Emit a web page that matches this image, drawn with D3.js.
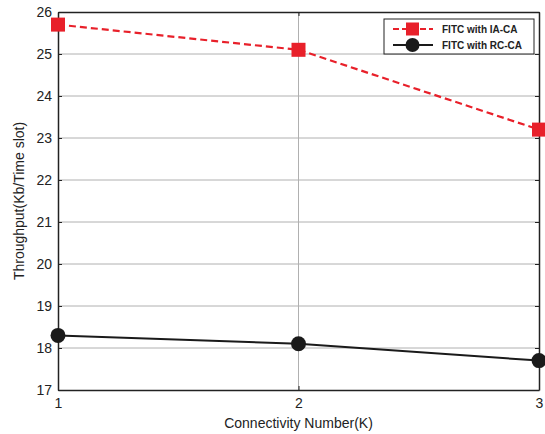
<!DOCTYPE html>
<html><head><meta charset="utf-8">
<script src="https://cdn.jsdelivr.net/npm/d3@7"></script>
<style>body{margin:0;background:#fff}svg{display:block}text{font-family:"Liberation Sans",Arial,sans-serif}</style>
</head><body>
<script>
const categories = [1, 2, 3];
const iaca = [25.7, 25.1, 23.2];
const rcca = [18.3, 18.1, 17.7];
const yTicks = [17, 18, 19, 20, 21, 22, 23, 24, 25, 26];
const seriesNames = ["FITC with IA-CA", "FITC with RC-CA"];

const W = 545, H = 434;
const m = {l: 58, r: 545 - 539, t: 12, b: 434 - 390};
const svg = d3.select("body").append("svg").attr("width", W).attr("height", H);
const x = d3.scaleLinear().domain([1, 3]).range([m.l, W - m.r]);
const y = d3.scaleLinear().domain([17, 26]).range([H - m.b, m.t]);

// grid
svg.append("g").selectAll("line").data(yTicks.slice(1, -1)).join("line")
  .attr("x1", m.l).attr("x2", W - m.r).attr("y1", d => y(d)).attr("y2", d => y(d))
  .attr("stroke", "#b0b0b0").attr("stroke-width", 1);
svg.append("g").selectAll("line").data([2]).join("line")
  .attr("x1", d => x(d)).attr("x2", d => x(d)).attr("y1", m.t).attr("y2", H - m.b)
  .attr("stroke", "#b0b0b0").attr("stroke-width", 1);

// axes
const ax = svg.append("g").attr("transform", `translate(0,${H - m.b})`)
  .call(d3.axisBottom(x).tickValues(categories).tickFormat(d3.format("d")).tickSizeInner(-4).tickSizeOuter(0).tickPadding(8));
const ay = svg.append("g").attr("transform", `translate(${m.l},0)`)
  .call(d3.axisLeft(y).tickValues(yTicks).tickSizeInner(-4).tickSizeOuter(0).tickPadding(6));
const axT = svg.append("g").attr("transform", `translate(0,${m.t})`)
  .call(d3.axisTop(x).tickValues(categories).tickFormat("").tickSizeInner(-4).tickSizeOuter(0));
const ayR = svg.append("g").attr("transform", `translate(${W - m.r},0)`)
  .call(d3.axisRight(y).tickValues(yTicks).tickFormat("").tickSizeInner(-4).tickSizeOuter(0));
[ax, ay, axT, ayR].forEach(g => {
  g.selectAll(".domain").attr("stroke", "#222").attr("stroke-width", 1.5);
  g.selectAll(".tick line").attr("stroke", "#222");
  g.selectAll("text").attr("font-size", 14).attr("fill", "#222");
});

// lines
const line = d3.line().x((d, i) => x(categories[i])).y(d => y(d));
svg.append("path").datum(iaca).attr("d", line).attr("fill", "none")
  .attr("stroke", "#e8202a").attr("stroke-width", 2.2).attr("stroke-dasharray", "7,4");
svg.append("path").datum(rcca).attr("d", line).attr("fill", "none")
  .attr("stroke", "#1a1a1a").attr("stroke-width", 2);
svg.append("g").selectAll("rect").data(iaca).join("rect")
  .attr("x", (d, i) => x(categories[i]) - 7).attr("y", d => y(d) - 7)
  .attr("width", 14).attr("height", 14).attr("fill", "#e8202a");
svg.append("g").selectAll("circle").data(rcca).join("circle")
  .attr("cx", (d, i) => x(categories[i])).attr("cy", d => y(d)).attr("r", 7.5).attr("fill", "#1a1a1a");

// axis labels
svg.append("text").attr("x", (m.l + W - m.r) / 2).attr("y", 428).attr("text-anchor", "middle")
  .attr("font-size", 14).attr("fill", "#222").text("Connectivity Number(K)");
svg.append("text").attr("transform", `translate(24,${(m.t + H - m.b) / 2}) rotate(-90)`)
  .attr("text-anchor", "middle").attr("font-size", 14).attr("fill", "#222").text("Throughput(Kb/Time slot)");

// legend
const lg = svg.append("g").attr("transform", "translate(384,19)");
lg.append("rect").attr("width", 150).attr("height", 35).attr("fill", "#fff").attr("stroke", "#222").attr("stroke-width", 1);
lg.append("line").attr("x1", 9).attr("x2", 49).attr("y1", 10).attr("y2", 10)
  .attr("stroke", "#e8202a").attr("stroke-width", 2.2).attr("stroke-dasharray", "6,3");
lg.append("rect").attr("x", 22).attr("y", 3.5).attr("width", 13).attr("height", 13).attr("fill", "#e8202a");
lg.append("line").attr("x1", 9).attr("x2", 49).attr("y1", 26).attr("y2", 26).attr("stroke", "#1a1a1a").attr("stroke-width", 2);
lg.append("circle").attr("cx", 28.5).attr("cy", 26).attr("r", 7).attr("fill", "#1a1a1a");
lg.selectAll("text.l").data(seriesNames).join("text").attr("class", "l")
  .attr("x", 58).attr("y", (d, i) => 14 + i * 16).attr("font-size", 10).attr("font-weight", "bold")
  .attr("fill", "#222").text(d => d);
</script>
</body></html>
